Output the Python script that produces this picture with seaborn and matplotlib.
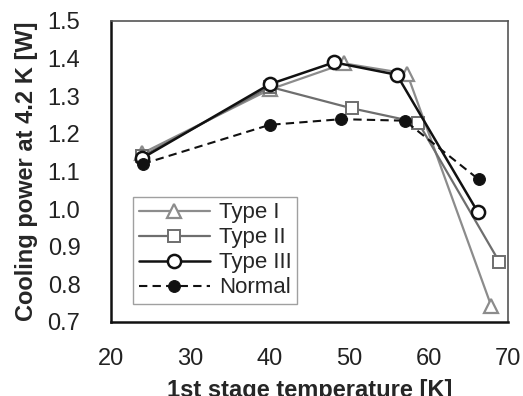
import matplotlib
matplotlib.use('Agg')
import pandas as pd
import seaborn as sns
import matplotlib.pyplot as plt

# values
temp_type1 = [23.9, 40.0, 49.4, 57.3, 67.9]
power_type1 = [1.148, 1.318, 1.387, 1.36, 0.742]
temp_type2 = [23.9, 40.0, 50.3, 58.7, 68.9]
power_type2 = [1.14, 1.325, 1.268, 1.23, 0.86]
temp_type3 = [23.9, 40.0, 48.1, 56.0, 66.2]
power_type3 = [1.135, 1.332, 1.39, 1.357, 0.992]
temp_normal = [24.0, 40.0, 49.0, 57.0, 66.3]
power_normal = [1.12, 1.224, 1.239, 1.235, 1.079]

sns.set_style('white')
plt.rcParams['font.family'] = ['Liberation Sans', 'DejaVu Sans']

fig = plt.figure(figsize=(5.23, 3.96), dpi=100)
ax = fig.add_axes([0.2122, 0.187, 0.7591, 0.760])

sns.lineplot(x=temp_type1, y=power_type1, ax=ax, color='#8c8c8c', lw=1.6,
             marker='^', ms=9.5, mfc='white', mec='#8c8c8c', mew=1.6, label='Type I')
sns.lineplot(x=temp_type2, y=power_type2, ax=ax, color='#6e6e6e', lw=1.6,
             marker='s', ms=8, mfc='white', mec='#6e6e6e', mew=1.4, label='Type II')
sns.lineplot(x=temp_type3, y=power_type3, ax=ax, color='#111111', lw=1.8,
             marker='o', ms=9.5, mfc='white', mec='#111111', mew=1.8, label='Type III')
sns.lineplot(x=temp_normal, y=power_normal, ax=ax, color='#111111', lw=1.5,
             linestyle=(0, (4, 2.5)), marker='o', ms=8.5, mfc='#111111', mec='#111111',
             label='Normal')

ax.set_xlim(20, 70)
ax.set_ylim(0.7, 1.5)
ax.set_xticks([20, 30, 40, 50, 60, 70])
ax.set_yticks([0.7, 0.8, 0.9, 1.0, 1.1, 1.2, 1.3, 1.4, 1.5])
ax.set_yticklabels(['%.1f' % v for v in ax.get_yticks()])
ax.tick_params(axis='both', direction='in', length=5, width=1.2, labelsize=17,
               colors='#222222')
ax.tick_params(axis='y', pad=22)
ax.tick_params(axis='x', pad=19)

for side in ['left', 'bottom']:
    ax.spines[side].set_color('#111111')
    ax.spines[side].set_linewidth(1.8)
for side in ['top', 'right']:
    ax.spines[side].set_color('#555555')
    ax.spines[side].set_linewidth(1.2)

ax.set_xlabel('1st stage temperature [K]', fontsize=17, fontweight='bold',
              labelpad=6)
ax.set_ylabel('Cooling power at 4.2 K [W]', fontsize=17, fontweight='bold',
              labelpad=7)

leg = ax.legend(loc='lower left', bbox_to_anchor=(0.045, 0.045), fontsize=16,
                frameon=True, fancybox=False, handlelength=3.2,
                borderpad=0.25, labelspacing=0.18, handletextpad=0.4,
                borderaxespad=0.2)
leg.get_frame().set_edgecolor('#888888')
leg.get_frame().set_linewidth(1.0)

fig.savefig('out.png', dpi=100)
